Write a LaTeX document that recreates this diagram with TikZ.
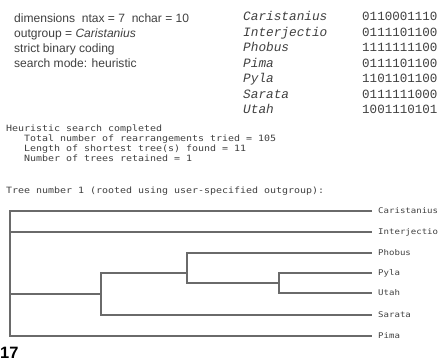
\documentclass[tikz,border=0pt]{standalone}
\usepackage{fontspec}
\setmainfont{Liberation Sans}
\setmonofont{Liberation Mono}
\newfontfamily\termfont[FakeStretch=1.15]{DejaVu Sans Mono}
\definecolor{ink}{HTML}{404040}
\definecolor{branchgray}{HTML}{6A6A6A}
\tikzset{
    info/.style={anchor=base west, inner sep=0pt, text=ink, font=\fontsize{12.1}{14}\selectfont},
    term/.style={anchor=base west, inner sep=0pt, text=ink, font=\termfont\fontsize{8.7}{10}\selectfont},
    taxon/.style={anchor=west, inner xsep=6bp, inner ysep=0pt, text=ink, font=\termfont\fontsize{7.9}{10}\selectfont},
    branch/.style={draw=branchgray, line width=1.2bp}
}
\begin{document}
\begin{tikzpicture}[x=1bp, y=-1bp]
    \useasboundingbox (0,0) rectangle (441,360);

    % Run settings
    \node[info] (dims) at (14,22) {dimensions\ \ ntax = 7\ \ nchar = 10};
    \node[info] (outg) at (14,37) {outgroup = \textit{Caristanius}};
    \node[info] (coding) at (14,52) {strict binary coding};
    \node[info] (mode) at (14,67) {search mode: heuristic};

    % Data matrix
    \foreach \name/\bits [count=\i] in {Caristanius/0110001110, Interjectio/0111101100,
        Phobus/1111111100, Pima/0111101100, Pyla/1101101100, Sarata/0111111000, Utah/1001110101} {
        \node[anchor=base west, inner sep=0pt, text=ink, font=\ttfamily\itshape\fontsize{12.8}{14}\selectfont]
            (m\i) at (243,{5+15.5*\i}) {\name};
        \node[anchor=base west, inner sep=0pt, text=ink, font=\ttfamily\fontsize{12.6}{14}\selectfont]
            (b\i) at (362,{5+15.5*\i}) {\bits};
    }

    % Search report
    \node[term] (report) at (6,131) {Heuristic search completed};
    \node[term] (rearr) at (24,141) {Total number of rearrangements tried = 105};
    \node[term] (length) at (24,151) {Length of shortest tree(s) found = 11};
    \node[term] (kept) at (24,161) {Number of trees retained = 1};
    \node[term] (title) at (6,193) {Tree number 1 (rooted using user-specified outgroup):};

    % Taxon labels
    \node[taxon] (Caristanius) at (372,211) {Caristanius};
    \node[taxon] (Interjectio) at (372,232) {Interjectio};
    \node[taxon] (Phobus) at (372,253) {Phobus};
    \node[taxon] (Pyla) at (372,273) {Pyla};
    \node[taxon] (Utah) at (372,293) {Utah};
    \node[taxon] (Sarata) at (372,315) {Sarata};
    \node[taxon] (Pima) at (372,336) {Pima};

    % Internal nodes
    \coordinate (root) at (10,294);
    \coordinate (n1) at (101,294);
    \coordinate (n2) at (187,273);
    \coordinate (n3) at (279,283);

    % Branches
    \draw[branch] (Caristanius.west) -| (10,336) -- (Pima.west);
    \draw[branch] (10,232) -- (Interjectio.west);
    \draw[branch] (root) -- (n1);
    \draw[branch] (n2) -| (101,315) -- (Sarata.west);
    \draw[branch] (Phobus.west) -| (187,283) -- (n3);
    \draw[branch] (Pyla.west) -| (279,293) -- (Utah.west);

    % Figure number
    \node[anchor=base west, inner sep=0pt, font=\bfseries\fontsize{16.5}{18}\selectfont] (fignum) at (0,358) {17};
\end{tikzpicture}
\end{document}
